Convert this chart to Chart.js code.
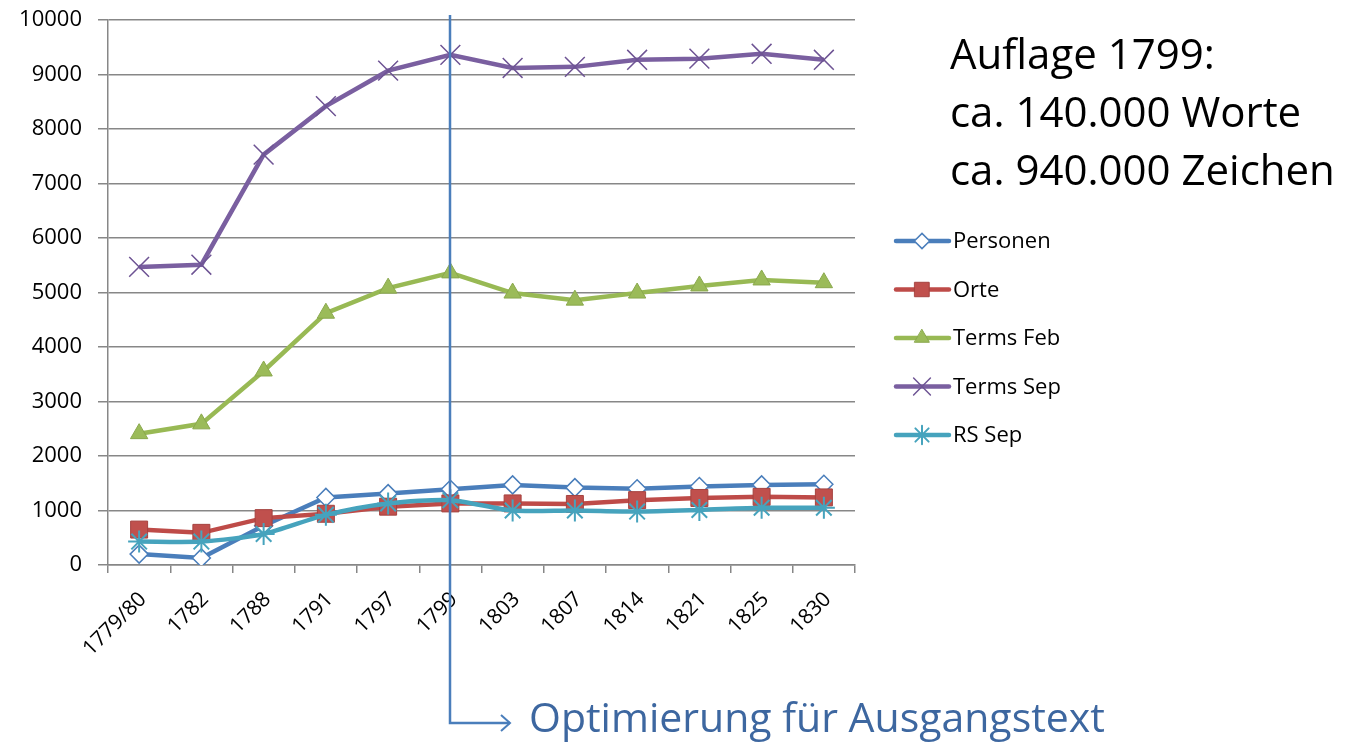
<!DOCTYPE html>
<html>
<head>
<meta charset="utf-8">
<script src="https://cdn.jsdelivr.net/npm/chart.js@4/dist/chart.umd.min.js"></script>
<style>
  html, body { margin: 0; padding: 0; background: #fff; }
  #wrap { width: 1351px; height: 746px; }
</style>
</head>
<body>
<div id="wrap"><canvas id="myChart" width="1351" height="746"></canvas></div>
<script>
const categories = ['1779/80', '1782', '1788', '1791', '1797', '1799', '1803', '1807', '1814', '1821', '1825', '1830'];
const personen = [200, 130, 720, 1240, 1310, 1390, 1470, 1420, 1400, 1440, 1470, 1480];
const orte = [650, 590, 860, 940, 1070, 1130, 1130, 1120, 1190, 1230, 1250, 1240];
const termsFeb = [2410, 2590, 3560, 4620, 5080, 5360, 4990, 4860, 4990, 5120, 5230, 5180];
const termsSep = [5470, 5510, 7530, 8420, 9070, 9360, 9120, 9140, 9270, 9290, 9380, 9270];
const rsSep = [430, 430, 570, 920, 1130, 1190, 1000, 1000, 980, 1010, 1050, 1050];
const markedYear = '1799';
const noteLines = ['Auflage 1799:', 'ca. 140.000 Worte', 'ca. 940.000 Zeichen'];
const arrowText = 'Optimierung für Ausgangstext';

const FONT = '"Open Sans", "Noto Sans", sans-serif';
const gridColor = '#878787';

const datasets = [
  { label: 'Personen', data: personen, borderColor: '#4a7ebb', backgroundColor: '#ffffff',
    pointStyle: 'rectRot', pointRadius: 9, pointBorderWidth: 1.5, pointBorderColor: '#4a7ebb', order: 5 },
  { label: 'Orte', data: orte, borderColor: '#be4b48', backgroundColor: '#c0504d',
    pointStyle: 'rect', pointRadius: 12, pointBorderWidth: 1, pointBorderColor: '#a5423f', order: 4 },
  { label: 'Terms Feb', data: termsFeb, borderColor: '#98b954', backgroundColor: '#9bbb59',
    pointStyle: 'triangle', pointRadius: 10, pointBorderWidth: 1, pointBorderColor: '#8aa84d', order: 3 },
  { label: 'Terms Sep', data: termsSep, borderColor: '#7a5fa0', backgroundColor: '#7a5fa0',
    pointStyle: 'crossRot', pointRadius: 14, pointBorderWidth: 1.5, pointBorderColor: '#6e5494', order: 2 },
  { label: 'RS Sep', data: rsSep, borderColor: '#46a3bd', backgroundColor: '#46a3bd',
    pointStyle: 'star', pointRadius: 11, pointBorderWidth: 2, pointBorderColor: '#46a3bd', order: 1, tension: 0.25 },
];
datasets.forEach(d => { d.borderWidth = 4.5; d.pointBackgroundColor = d.backgroundColor; d.tension = d.tension || 0; });

// legend on the right, line + marker like the office legend
const sideLegend = {
  id: 'sideLegend',
  afterDraw(chart) {
    const { ctx } = chart;
    const startY = 241, gap = 48.5;
    ctx.save();
    chart.data.datasets.forEach((ds, i) => {
      const y = startY + i * gap;
      ctx.strokeStyle = ds.borderColor;
      ctx.lineWidth = 4.5;
      ctx.lineCap = 'round';
      ctx.beginPath();
      ctx.moveTo(896, y);
      ctx.lineTo(949, y);
      ctx.stroke();
      ctx.fillStyle = ds.pointBackgroundColor;
      ctx.strokeStyle = ds.pointBorderColor;
      ctx.lineWidth = ds.pointBorderWidth;
      Chart.helpers.drawPoint(ctx, {
        pointStyle: ds.pointStyle, radius: ds.pointRadius * 0.85, rotation: 0, borderWidth: ds.pointBorderWidth
      }, 922, y);
      ctx.fillStyle = '#000';
      ctx.font = '22px ' + FONT;
      ctx.textBaseline = 'middle';
      ctx.fillText(ds.label, 953, y + 1);
    });
    ctx.restore();
  }
};

// vertical marker at 1799 with arrow and captions
const annotations = {
  id: 'annotations',
  afterDatasetsDraw(chart) {
    const { ctx } = chart;
    const x = Math.round(chart.scales.x.getPixelForValue(categories.indexOf(markedYear)));
    ctx.save();
    ctx.strokeStyle = '#4a7ebb';
    ctx.lineWidth = 2.5;
    ctx.beginPath();
    ctx.moveTo(x, 15);
    ctx.lineTo(x, 723);
    ctx.lineTo(x + 60, 723);
    ctx.stroke();
    ctx.lineWidth = 2;
    ctx.beginPath();
    ctx.moveTo(x + 51, 715);
    ctx.lineTo(x + 60, 723);
    ctx.lineTo(x + 51, 731);
    ctx.stroke();
    ctx.restore();
  },
  afterDraw(chart) {
    const { ctx } = chart;
    ctx.save();
    ctx.textBaseline = 'middle';
    ctx.fillStyle = '#000';
    ctx.font = '42px ' + FONT;
    noteLines.forEach((t, i) => ctx.fillText(t, 950, 57 + i * 58));
    ctx.fillStyle = '#3d67a0';
    ctx.font = '41px ' + FONT;
    ctx.fillText(arrowText, 529, 720);
    ctx.restore();
  }
};

new Chart(document.getElementById('myChart').getContext('2d'), {
  type: 'line',
  data: { labels: categories, datasets: datasets },
  options: {
    responsive: false,
    animation: false,
    layout: { padding: { left: 0, right: 496, top: 20, bottom: 0 } },
    plugins: { legend: { display: false }, tooltip: { enabled: false } },
    scales: {
      x: {
        offset: true,
        grid: { offset: true, drawOnChartArea: false, color: gridColor, lineWidth: 1.5, tickLength: 8 },
        border: { color: gridColor, width: 1.5 },
        ticks: { maxRotation: 45, minRotation: 45, autoSkip: false, color: '#000', padding: 14, labelOffset: 4,
                 font: { family: FONT, size: 21 } },
        afterFit(scale) { scale.height = 181; scale.paddingLeft = 0; scale.paddingRight = 0; }
      },
      y: {
        min: 0, max: 10000,
        grid: { color: gridColor, lineWidth: 1.5, tickLength: 10 },
        border: { color: gridColor, width: 1.5 },
        ticks: { stepSize: 1000, color: '#000', padding: 16, font: { family: FONT, size: 22 },
                 callback: v => String(v) },
        afterFit(scale) { scale.width = 108; scale.paddingTop = 0; scale.paddingBottom = 0; }
      }
    }
  },
  plugins: [annotations, sideLegend]
});
</script>
</body>
</html>
